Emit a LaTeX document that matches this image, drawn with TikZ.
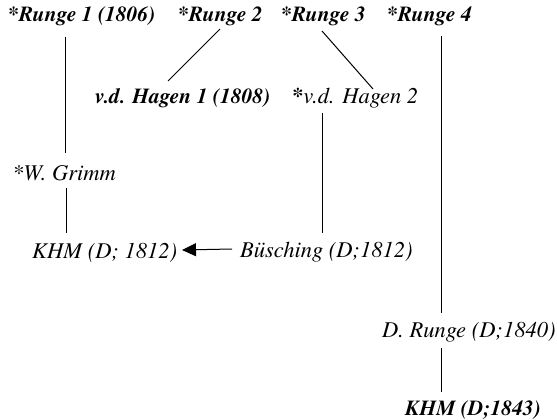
\documentclass[tikz,border=0pt]{standalone}
\usepackage{fontspec}
\setmainfont{texgyretermes}[Extension=.otf,UprightFont=*-regular,ItalicFont=*-italic,BoldFont=*-bold,BoldItalicFont=*-bolditalic]
\usetikzlibrary{arrows.meta,calc}
\tikzset{
  lbl/.style={anchor=base west,inner sep=0pt,font=\fontsize{22.5pt}{27pt}\selectfont\itshape},
  blbl/.style={lbl,font=\fontsize{21.5pt}{26pt}\selectfont\itshape\bfseries},
  conn/.style={line width=1pt,black},
  arr/.style={conn,-{Triangle[length=14pt,width=13pt]}}
}
\begin{document}
\begin{tikzpicture}[x=1pt,y=-1pt]
\useasboundingbox (0,0) rectangle (557,420);
% top row
\node[blbl] (r1) at (8,22) {*Runge 1 (1806)};
\node[blbl] (r2) at (178,22) {*Runge 2};
\node[blbl] (r3) at (281,22) {*Runge 3};
\node[blbl] (r4) at (387,22) {*Runge 4};
% second row
\node[blbl] (h1) at (95,103) {v.d. Hagen 1 (1808)};
\node[lbl] (h2) at (292,103) {\bfseries*\mdseries v.d. Hagen 2};
% left column
\node[lbl] (wg) at (12,180) {*W. Grimm};
\node[lbl] (k12) at (32,258) {KHM (D; 1812)};
\node[lbl] (bu) at (240,257) {Büsching (D;1812)};
% right column
\node[lbl] (dr) at (382,337) {D. Runge (D;1840)};
\node[blbl] (k43) at (405,415) {KHM (D;1843)};
% connectors
\draw[conn] ($(r1.base west)+(57,15)$) -- ($(wg.base west)+(53,-27)$);
\draw[conn] ($(wg.base west)+(54,8)$) -- ($(k12.base west)+(34,-25)$);
\draw[conn] ($(r2.base west)+(42,7)$) -- ($(h1.base west)+(73,-22)$);
\draw[conn] ($(r3.base west)+(41,9)$) -- ($(h2.base west)+(81,-14)$);
\draw[conn] ($(h2.base west)+(30,10)$) -- ($(bu.base west)+(82,-24)$);
\draw[arr] ($(bu.base west)+(-8,-8)$) -- ($(k12.base west)+(150,-8)$);
\draw[conn] ($(r4.base west)+(54,14)$) -- ($(dr.base west)+(59,-24)$);
\draw[conn] ($(dr.base west)+(59,11)$) -- ($(k43.base west)+(36,-23)$);
\end{tikzpicture}
\end{document}
